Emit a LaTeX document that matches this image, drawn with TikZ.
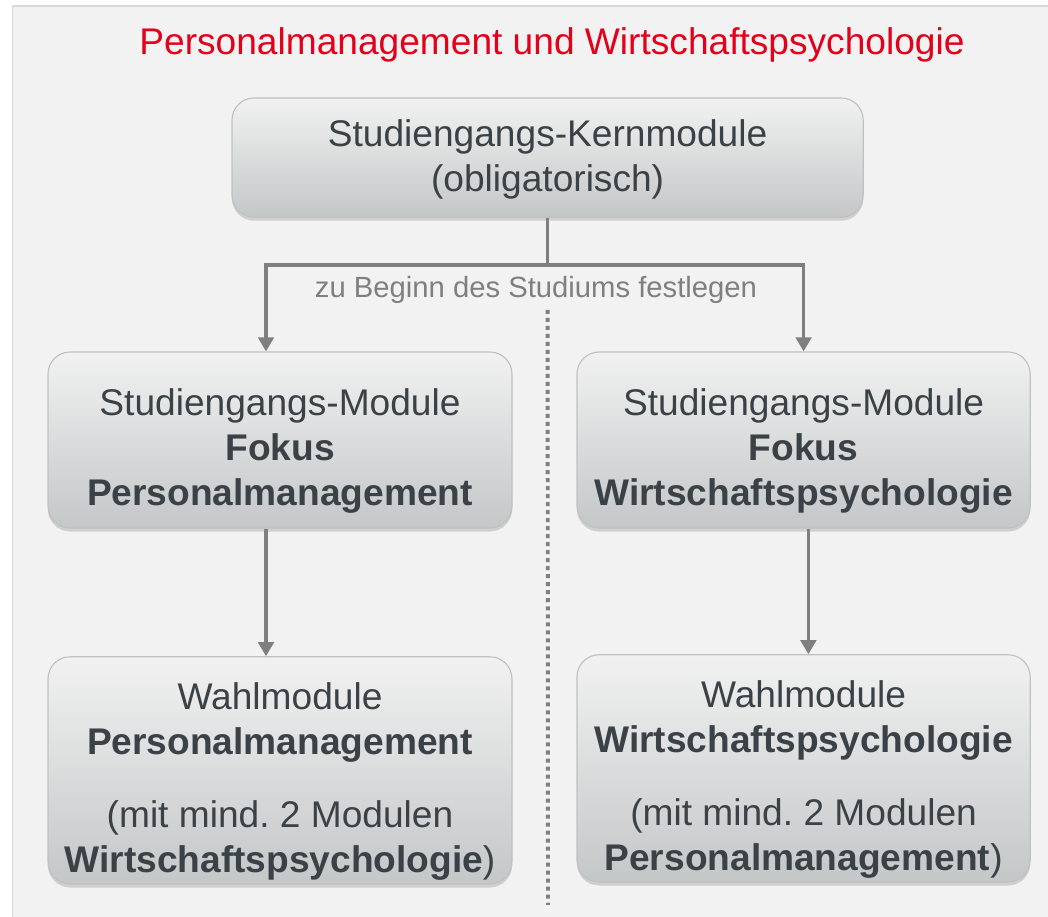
\documentclass[tikz,border=0pt]{standalone}
\usepackage{fontspec}
\setmainfont{Liberation Sans}
\usetikzlibrary{arrows.meta, positioning, shadows}

\definecolor{unired}{RGB}{226,0,26}
\definecolor{boxtext}{RGB}{59,66,71}
\definecolor{linegray}{RGB}{127,127,127}
\definecolor{paper}{RGB}{242,242,242}
\definecolor{framegray}{RGB}{217,217,217}
\definecolor{boxtop}{RGB}{241,241,241}
\definecolor{boxbottom}{RGB}{196,199,200}
\definecolor{boxline}{RGB}{192,192,192}

\begin{document}
\begin{tikzpicture}[
    module/.style={rectangle, rounded corners=0.55cm, draw=boxline, line width=0.8pt,
                   top color=boxtop, bottom color=boxbottom,
                   drop shadow={shadow xshift=0pt, shadow yshift=-2.5pt, opacity=0.3}},
    modtext/.style={text=boxtext, align=center, inner sep=0pt,
                    font=\fontsize{26.4}{32}\selectfont},
    heading/.style={text=unired, font=\fontsize{26.4}{31.5}\selectfont},
    note/.style={text=linegray, inner sep=0pt, font=\fontsize{20.8}{24}\selectfont},
    conn/.style={line width=2.4pt, draw=linegray},
    arrow/.style={conn, -{Triangle[width=11pt,length=10pt]}},
    sep/.style={line width=2.8pt, draw=linegray, dash pattern=on 2.85pt off 2.85pt}
]

\useasboundingbox (0,0) rectangle (26.2,-22.925);
\draw[framegray, fill=paper, line width=1pt] (0.31,-0.15) rectangle (27,-24);

\node[heading] (title) at (13.8,-1.12) {Personalmanagement und Wirtschaftspsychologie};

\node[module, minimum width=15.78cm, minimum height=2.98cm,
      label={[modtext, yshift=-0.05cm]center:{Studiengangs-Kernmodule\\(obligatorisch)}}]
      (kern) at (13.69,-3.94) {};

\node[module, minimum width=11.6cm, minimum height=4.4cm,
      label={[modtext, yshift=-0.27cm]center:{Studiengangs-Module\\\textbf{Fokus}\\\textbf{Personalmanagement}}}]
      (fokuspm) at (7.0,-11.0) {};
\node[module, minimum width=11.33cm, minimum height=4.4cm,
      label={[modtext, yshift=-0.27cm]center:{Studiengangs-Module\\\textbf{Fokus}\\\textbf{Wirtschaftspsychologie}}}]
      (fokuswp) at (20.09,-11.0) {};

\node[module, minimum width=11.6cm, minimum height=5.68cm,
      label={[modtext, yshift=-0.27cm]center:{Wahlmodule\\\textbf{Personalmanagement}\\[0.7cm]
             (mit mind.\ 2 Modulen\\\textbf{Wirtschaftspsychologie})}}]
      (wahlpm) at (7.0,-19.26) {};
\node[module, minimum width=11.33cm, minimum height=5.68cm,
      label={[modtext, yshift=-0.27cm]center:{Wahlmodule\\\textbf{Wirtschaftspsychologie}\\[0.7cm]
             (mit mind.\ 2 Modulen\\\textbf{Personalmanagement})}}]
      (wahlwp) at (20.09,-19.21) {};

% Verzweigung nach der Kernphase
\draw[conn] (kern.south) -- ++(0,-1.18) coordinate (split);
\draw[arrow] (split) -| ([xshift=-0.35cm]fokuspm.north);
\draw[arrow] (split) -| (fokuswp.north);
\node[note, below=0.27cm of split, xshift=-0.29cm] (hint) {zu Beginn des Studiums festlegen};

\draw[arrow] ([xshift=-0.35cm]fokuspm.south) -- ([xshift=-0.35cm]wahlpm.north);
\draw[arrow] ([xshift=0.12cm]fokuswp.south) -- ([xshift=0.12cm]wahlwp.north);

% Trennlinie
\coordinate (septop) at ([yshift=-1.12cm]split);
\coordinate (sepend) at (13.7,-22.62);
\draw[sep] (septop) -- (sepend);

\end{tikzpicture}
\end{document}
